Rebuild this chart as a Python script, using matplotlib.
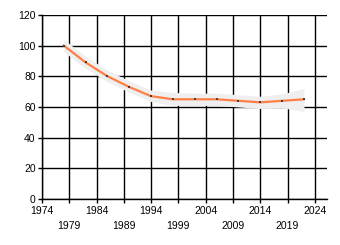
import matplotlib
matplotlib.use('Agg')
import matplotlib.pyplot as plt
import numpy as np

# データ
years = [1978, 1982, 1986, 1990, 1994, 1998, 2002, 2006, 2010, 2014, 2018, 2022]
values = [100, 89, 80, 73, 67, 65, 65, 65, 64, 63, 64, 65]
upper = [104, 93, 84, 77, 71, 69.5, 69, 69, 68, 67, 68.5, 72]
lower = [96, 85, 76.5, 69.5, 63.5, 61, 61, 61, 60, 59, 59.5, 57]
major_years = [1974, 1984, 1994, 2004, 2014, 2024]
minor_years = [1979, 1989, 1999, 2009, 2019]
y_ticks = [0, 20, 40, 60, 80, 100, 120]

plt.rcParams['font.family'] = ['Liberation Sans', 'DejaVu Sans']

fig = plt.figure(figsize=(3.4, 2.45), dpi=100)
ax = fig.add_axes([0.1235, 0.188, 0.838, 0.751])

# 信頼区間
ax.fill_between(years, lower, upper, color='#efefef', lw=0, zorder=2)
# 折れ線
ax.plot(years, values, color='#ff7f45', lw=1.6, zorder=3,
        marker='s', markersize=2, markerfacecolor='#404040', markeredgewidth=0)

ax.set_xlim(1974, 2026.2)
ax.set_ylim(0, 120)

ax.set_xticks(major_years)
ax.set_xticks(minor_years, minor=True)
ax.set_xticklabels([str(y) for y in major_years])
ax.set_xticklabels([str(y) for y in minor_years], minor=True)
ax.set_yticks(y_ticks)

ax.tick_params(axis='x', which='major', length=3, width=1, pad=2, labelsize=7.5)
ax.tick_params(axis='x', which='minor', length=3, width=1, pad=13, labelsize=7.5)
ax.tick_params(axis='y', length=3, width=1, pad=1.5, labelsize=7.5)

# グリッド
ax.grid(True, which='both', axis='x', color='black', lw=1, zorder=1)
ax.grid(True, axis='y', color='black', lw=1, zorder=1)
ax.set_axisbelow(True)

ax.spines['top'].set_visible(False)
ax.spines['right'].set_visible(False)
ax.spines['left'].set_linewidth(1)
ax.spines['bottom'].set_linewidth(1)

fig.savefig('out.png', dpi=100)
